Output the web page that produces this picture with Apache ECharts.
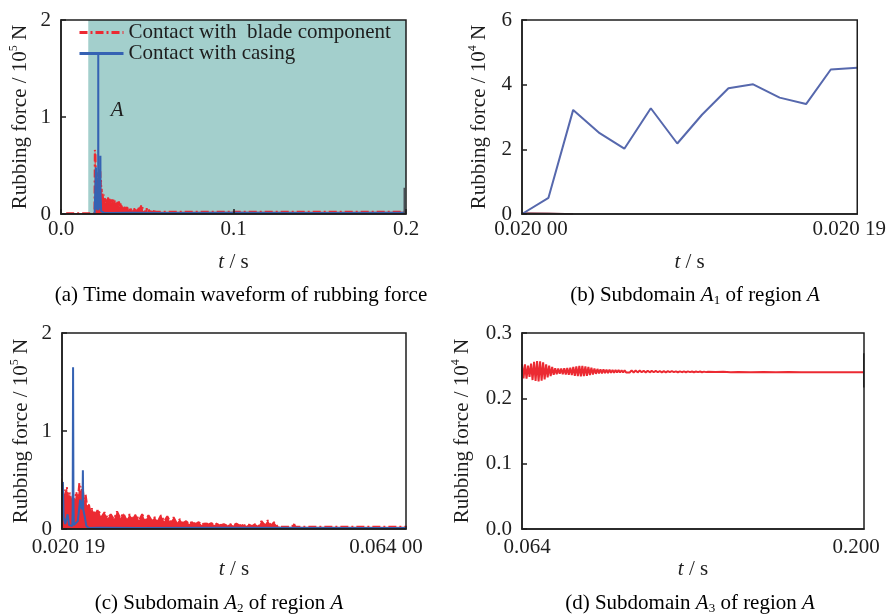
<!DOCTYPE html>
<html>
<head>
<meta charset="utf-8">
<script src="https://cdn.jsdelivr.net/npm/echarts@6/dist/echarts.min.js"></script>
<style>
  html, body { margin: 0; padding: 0; background: #ffffff; }
  #chart { width: 889px; height: 614px; }
</style>
</head>
<body>
<div id="chart"></div>
<script>
// ---- Rubbing force over the whole run, unit 10^5 N (panels a and c) ----
const bladeTime = [
  0.0030, 0.0194, 0.0196, 0.0198, 0.0200, 0.0201, 0.0204, 0.0206, 0.0208, 0.0210,
  0.0212, 0.0214, 0.0216, 0.0218, 0.0220, 0.0222, 0.0224, 0.0226, 0.0228, 0.0230,
  0.0232, 0.0234, 0.0236, 0.0238, 0.0240, 0.0244, 0.0248, 0.0252, 0.0256, 0.0260,
  0.0264, 0.0268, 0.0272, 0.0276, 0.0280, 0.0284, 0.0288, 0.0292, 0.0296, 0.0300,
  0.0304, 0.0308, 0.0312, 0.0316, 0.0320, 0.0324, 0.0328, 0.0332, 0.0336, 0.0340,
  0.0344, 0.0348, 0.0352, 0.0356, 0.0360, 0.0364, 0.0368, 0.0372, 0.0376, 0.0380,
  0.0384, 0.0388, 0.0392, 0.0396, 0.0400, 0.0404, 0.0408, 0.0412, 0.0416, 0.0420,
  0.0424, 0.0428, 0.0432, 0.0436, 0.0440, 0.0444, 0.0448, 0.0452, 0.0456, 0.0460,
  0.0464, 0.0468, 0.0472, 0.0476, 0.0480, 0.0495, 0.0497, 0.0499, 0.0509, 0.0511,
  0.0513, 0.0552, 0.0554, 0.0556, 0.0600, 0.0640, 0.0800, 0.1000, 0.1200, 0.1500,
  0.1800, 0.2000
];
const bladeForce = [
  0.008, 0.008, 0.66, 0.68, 0.62, 0.50, 0.40, 0.34, 0.43, 0.31,
  0.37, 0.28, 0.35, 0.27, 0.38, 0.30, 0.47, 0.36, 0.44, 0.29,
  0.35, 0.23, 0.26, 0.17, 0.21, 0.15, 0.20, 0.12, 0.17, 0.11,
  0.15, 0.10, 0.18, 0.11, 0.16, 0.09, 0.15, 0.10, 0.15, 0.09,
  0.15, 0.09, 0.14, 0.09, 0.12, 0.08, 0.14, 0.08, 0.13, 0.07,
  0.12, 0.06, 0.10, 0.06, 0.08, 0.05, 0.08, 0.05, 0.07, 0.04,
  0.07, 0.045, 0.06, 0.04, 0.06, 0.04, 0.05, 0.035, 0.05, 0.035,
  0.055, 0.035, 0.05, 0.03, 0.045, 0.03, 0.05, 0.03, 0.08, 0.04,
  0.09, 0.035, 0.07, 0.03, 0.024, 0.024, 0.06, 0.024, 0.024, 0.04,
  0.024, 0.024, 0.04, 0.024, 0.024, 0.024, 0.024, 0.024, 0.024, 0.024,
  0.024, 0.024
];
const casingTime = [
  0.0195, 0.0200, 0.02019, 0.0203, 0.0204, 0.0206, 0.0209, 0.0211, 0.02150, 0.02155,
  0.0216, 0.02165, 0.0217, 0.0219, 0.0222, 0.0225, 0.0227, 0.02280, 0.02285, 0.02290,
  0.0231, 0.0233, 0.0236, 0.0250, 0.0300, 0.0400, 0.0600, 0.1000, 0.1500, 0.2000
];
const casingForce = [
  0.0, 0.0, 0.45, 0.48, 0.12, 0.05, 0.15, 0.04, 0.03, 0.20,
  1.65, 0.25, 0.04, 0.04, 0.08, 0.30, 0.20, 0.25, 0.60, 0.20,
  0.12, 0.03, 0.01, 0.012, 0.010, 0.012, 0.010, 0.012, 0.010, 0.012
];
const contactStart = 0.0158;          // start of the shaded contact span, s
const endTransientA = [[0.1990, 0.0], [0.1990, 0.27]];

// ---- Subdomain A1, unit 10^4 N ----
const a1Time = [
  0.020000, 0.020015, 0.020029, 0.020044, 0.020058, 0.020073, 0.020088,
  0.020102, 0.020117, 0.020131, 0.020146, 0.020161, 0.020175, 0.020190
];
const a1Casing = [0.0, 0.5, 3.22, 2.5, 2.02, 3.27, 2.18, 3.07, 3.89, 4.01, 3.6, 3.4, 4.47, 4.52];
const a1Blade = [0.03, 0.02, 0.0];

// ---- Subdomain A3, unit 10^4 N ----
const a3TimeMs = [
  64.0, 64.6, 65.2, 65.8, 66.4, 67.0, 67.6, 68.2, 68.8, 69.4,
  70.0, 70.6, 71.2, 71.8, 72.4, 73.0, 73.6, 74.2, 74.8, 75.4,
  76.0, 76.6, 77.2, 77.8, 78.4, 79.0, 79.6, 80.2, 80.8, 81.4,
  82.0, 82.6, 83.2, 83.8, 84.4, 85.0, 85.6, 86.2, 86.8, 87.4,
  88.0, 88.6, 89.2, 89.8, 90.4, 91.0, 91.6, 92.2, 92.8, 93.4,
  94.0, 94.6, 95.2, 95.8, 96.4, 97.0, 97.6, 98.2, 98.8, 99.4,
  100.0, 100.6, 101.2, 101.8, 102.4, 103.0, 103.6, 104.2, 104.8, 105.4, 106.0,
  106.8, 107.6, 108.4, 109.2, 110.0, 110.8, 111.6, 112.4, 113.2, 114.0,
  114.8, 115.6, 116.4, 117.2, 118.0, 118.8, 119.6, 120.4, 121.2, 122.0,
  122.8, 123.6, 124.4, 125.2, 126.0, 126.8, 127.6, 128.4, 129.2, 130.0,
  130.8, 131.6, 132.4, 133.2, 134.0, 134.8, 135.6, 136.4, 137.2, 138.0,
  141, 144, 147, 150, 155, 160, 165, 170, 175, 180, 185, 190, 195, 200
];
const a3Blade = [
  0.2525, 0.2305, 0.2520, 0.2300, 0.2500, 0.2330, 0.2530, 0.2280, 0.2560, 0.2265,
  0.2570, 0.2260, 0.2565, 0.2270, 0.2550, 0.2290, 0.2520, 0.2320, 0.2500, 0.2340,
  0.2480, 0.2360, 0.2460, 0.2370, 0.2455, 0.2375, 0.2455, 0.2370, 0.2460, 0.2365,
  0.2465, 0.2360, 0.2470, 0.2355, 0.2480, 0.2345, 0.2490, 0.2340, 0.2495, 0.2335,
  0.2495, 0.2340, 0.2490, 0.2345, 0.2480, 0.2355, 0.2470, 0.2365, 0.2455, 0.2375,
  0.2450, 0.2380, 0.2445, 0.2380, 0.2445, 0.2385, 0.2440, 0.2385, 0.2440, 0.2390,
  0.2435, 0.2392, 0.2433, 0.2394, 0.2432, 0.2395, 0.2430, 0.2396, 0.2428, 0.2397, 0.2427,
  0.2395, 0.2428, 0.2396, 0.2426, 0.2397, 0.2425, 0.2398, 0.2423, 0.2397, 0.2422,
  0.2398, 0.2420, 0.2399, 0.2419, 0.2399, 0.2418, 0.2398, 0.2417, 0.2399, 0.2416,
  0.2400, 0.2415, 0.2400, 0.2414, 0.2399, 0.2413, 0.2400, 0.2412, 0.2400, 0.2412,
  0.2401, 0.2411, 0.2400, 0.2410, 0.2401, 0.2410, 0.2400, 0.2409, 0.2401, 0.2408,
  0.2402, 0.2405, 0.2401, 0.2404, 0.2400, 0.2403, 0.2400, 0.2402, 0.2399, 0.2401,
  0.2399, 0.2400, 0.2399, 0.2398
];
const endTransientD = [[0.1999, 0.2165], [0.1999, 0.269]];

const NAME_BLADE = 'Contact with  blade component';
const NAME_CASING = 'Contact with casing';

// ---- styling ----
const FONT = '"Liberation Serif", "Times New Roman", serif';
const INK = '#1e1e1e';
const RED = '#ec2a32';
const BLUE = '#3562b3';
const BLUE_B = '#5668ad';
const TEAL = '#a3cfcc';
const FS = 21;

const zip = (t, f) => f.map((v, i) => [t[i], v]);

const txt = { fontFamily: FONT, fontSize: FS, color: INK };
const nameRich = {
  n: { ...txt, lineHeight: 24 },
  i: { ...txt, fontStyle: 'italic', lineHeight: 24 },
  s: { fontFamily: FONT, fontSize: 12, color: INK, lineHeight: 12, verticalAlign: 'top' },
  b: { fontFamily: FONT, fontSize: 13, color: INK, lineHeight: 13, verticalAlign: 'bottom' }
};

const spaced = (v, d) => { const s = v.toFixed(d); return s.slice(0, 5) + ' ' + s.slice(5); };

function xAxis(gridIndex, opt, labelMargin, nameGap) {
  return Object.assign({
    type: 'value', gridIndex, z: 6,
    name: '{i|t}{n| / s}', nameLocation: 'middle', nameGap,
    nameTextStyle: { rich: nameRich },
    axisLine: { lineStyle: { color: INK, width: 1.5 } },
    axisTick: { inside: true, length: 5, lineStyle: { color: INK, width: 1.5 } },
    splitLine: { show: false }
  }, opt, {
    axisLabel: Object.assign({ ...txt, margin: labelMargin }, opt.axisLabel || {})
  });
}
function yAxis(gridIndex, opt, power, nameGap) {
  return Object.assign({
    type: 'value', gridIndex, z: 6,
    name: '{n|Rubbing force / 10}{s|' + power + '}{n| N}', nameLocation: 'middle', nameGap,
    nameRotate: 90,
    nameTextStyle: { rich: nameRich },
    axisLine: { lineStyle: { color: INK, width: 1.5 } },
    axisTick: { inside: true, length: 5, lineStyle: { color: INK, width: 1.5 } },
    splitLine: { show: false }
  }, opt, {
    axisLabel: Object.assign({ ...txt, margin: 10 }, opt.axisLabel || {})
  });
}

// only the two end values are labelled; the padding nudges each label inward
const edgeLabels = (lo, hi, fmt, lPad, rPad) => ({
  customValues: [lo, hi],
  formatter: v => (v < (lo + hi) / 2 ? '{l|' : '{r|') + fmt(v) + '}',
  rich: {
    l: { ...txt, padding: [0, 0, 0, lPad] },
    r: { ...txt, padding: [0, rPad, 0, 0] }
  }
});

const grids = [
  { left: 61, top: 20, width: 345, height: 194 },
  { left: 522, top: 20, width: 337, height: 194 },
  { left: 62, top: 333, width: 344, height: 196 },
  { left: 522, top: 333, width: 342, height: 196 }
].map(g => Object.assign({ show: true, borderColor: INK, borderWidth: 1.5, backgroundColor: 'transparent', z: 5 }, g));

const xAxes = [
  xAxis(0, { min: 0, max: 0.2, interval: 0.1, axisLabel: { formatter: v => v.toFixed(1) } }, 5, 36),
  xAxis(1, {
    min: 0.02, max: 0.02019,
    axisLabel: edgeLabels(0.02, 0.02019, v => spaced(v, 5), 18, 16),
    axisTick: { show: false }
  }, 5, 36),
  xAxis(2, {
    min: 0.02019, max: 0.064,
    axisLabel: edgeLabels(0.02019, 0.064, v => spaced(v, 5), 13, 40),
    axisTick: { show: false }
  }, 8, 25),
  xAxis(3, {
    min: 0.064, max: 0.2,
    axisLabel: edgeLabels(0.064, 0.2, v => v.toFixed(3), 10, 16),
    axisTick: { show: false }
  }, 8, 25)
];
const yAxes = [
  yAxis(0, { min: 0, max: 2, interval: 1 }, 5, 29),
  yAxis(1, { min: 0, max: 6, interval: 2 }, 4, 31),
  yAxis(2, { min: 0, max: 2, interval: 1 }, 5, 29),
  yAxis(3, { min: 0, max: 0.3, interval: 0.1, axisLabel: { formatter: v => v.toFixed(1) } }, 4, 48)
];

const bladeSeries = (idx) => ({
  name: NAME_BLADE, type: 'line', xAxisIndex: idx, yAxisIndex: idx,
  data: zip(bladeTime, bladeForce), symbol: 'none', z: 3, silent: true,
  itemStyle: { color: RED },
  lineStyle: { color: RED, width: 2, type: [8, 3, 2, 3] },
  areaStyle: { color: RED, opacity: 1 }
});
const casingSeries = (idx) => ({
  name: NAME_CASING, type: 'line', xAxisIndex: idx, yAxisIndex: idx,
  data: zip(casingTime, casingForce), symbol: 'none', z: 4, silent: true,
  itemStyle: { color: BLUE },
  lineStyle: { color: BLUE, width: 2 }
});

const series = [
  // shaded contact span in panel (a)
  {
    type: 'line', xAxisIndex: 0, yAxisIndex: 0, data: [[contactStart, 0]], symbol: 'none',
    lineStyle: { opacity: 0 }, z: 1, silent: true,
    markArea: {
      silent: true, itemStyle: { color: TEAL, opacity: 1 },
      data: [[{ xAxis: contactStart, yAxis: 0 }, { xAxis: 0.2, yAxis: 2 }]]
    }
  },
  bladeSeries(0),
  Object.assign(casingSeries(0), {
    markPoint: {
      symbol: 'circle', symbolSize: 1, silent: true,
      itemStyle: { color: 'rgba(0,0,0,0)' },
      label: { show: true, position: 'inside', formatter: 'A', ...txt, fontStyle: 'italic' },
      data: [{ coord: [0.0325, 1.07] }]
    }
  }),
  {
    type: 'line', xAxisIndex: 0, yAxisIndex: 0, data: endTransientA, symbol: 'none', z: 4, silent: true,
    lineStyle: { color: '#4a4f57', width: 1.5 }
  },
  // panel (b)
  {
    name: NAME_BLADE, type: 'line', xAxisIndex: 1, yAxisIndex: 1,
    data: zip(a1Time, a1Blade), symbol: 'none', z: 3, silent: true,
    lineStyle: { color: '#8a3a4a', width: 1.5 }, itemStyle: { color: RED }
  },
  {
    name: NAME_CASING, type: 'line', xAxisIndex: 1, yAxisIndex: 1,
    data: zip(a1Time, a1Casing), symbol: 'none', z: 4, silent: true,
    lineStyle: { color: BLUE_B, width: 2 }, itemStyle: { color: BLUE }
  },
  // panel (c)
  bladeSeries(2),
  casingSeries(2),
  // panel (d)
  {
    name: NAME_BLADE, type: 'line', xAxisIndex: 3, yAxisIndex: 3,
    data: zip(a3TimeMs.map(ms => ms / 1000), a3Blade), symbol: 'none', z: 3, silent: true,
    lineStyle: { color: RED, width: 2 }, itemStyle: { color: RED }
  },
  {
    type: 'line', xAxisIndex: 3, yAxisIndex: 3, data: endTransientD, symbol: 'none', z: 4, silent: true,
    lineStyle: { color: '#333333', width: 1.5 }
  }
];

const caption = (x, y, text) => ({
  type: 'text', x, y, silent: true,
  style: { text, rich: nameRich, ...txt, align: 'center', verticalAlign: 'middle' }
});

const option = {
  backgroundColor: '#ffffff',
  animation: false,
  grid: grids,
  xAxis: xAxes,
  yAxis: yAxes,
  legend: {
    data: [NAME_BLADE, NAME_CASING],
    orient: 'vertical', left: 78, top: 22, padding: 0,
    itemWidth: 44, itemHeight: 14, itemGap: 0,
    selectedMode: false,
    itemStyle: { opacity: 0 },
    lineStyle: { width: 3 },
    textStyle: { ...txt, lineHeight: 20 }
  },
  series,
  graphic: [
    caption(241, 295, '{n|(a) Time domain waveform of rubbing force}'),
    caption(695, 295, '{n|(b) Subdomain }{i|A}{b|1}{n| of region }{i|A}'),
    caption(219, 603, '{n|(c) Subdomain }{i|A}{b|2}{n| of region }{i|A}'),
    caption(690, 603, '{n|(d) Subdomain }{i|A}{b|3}{n| of region }{i|A}')
  ]
};

const chart = echarts.init(document.getElementById('chart'));
chart.setOption(option);
</script>
</body>
</html>
